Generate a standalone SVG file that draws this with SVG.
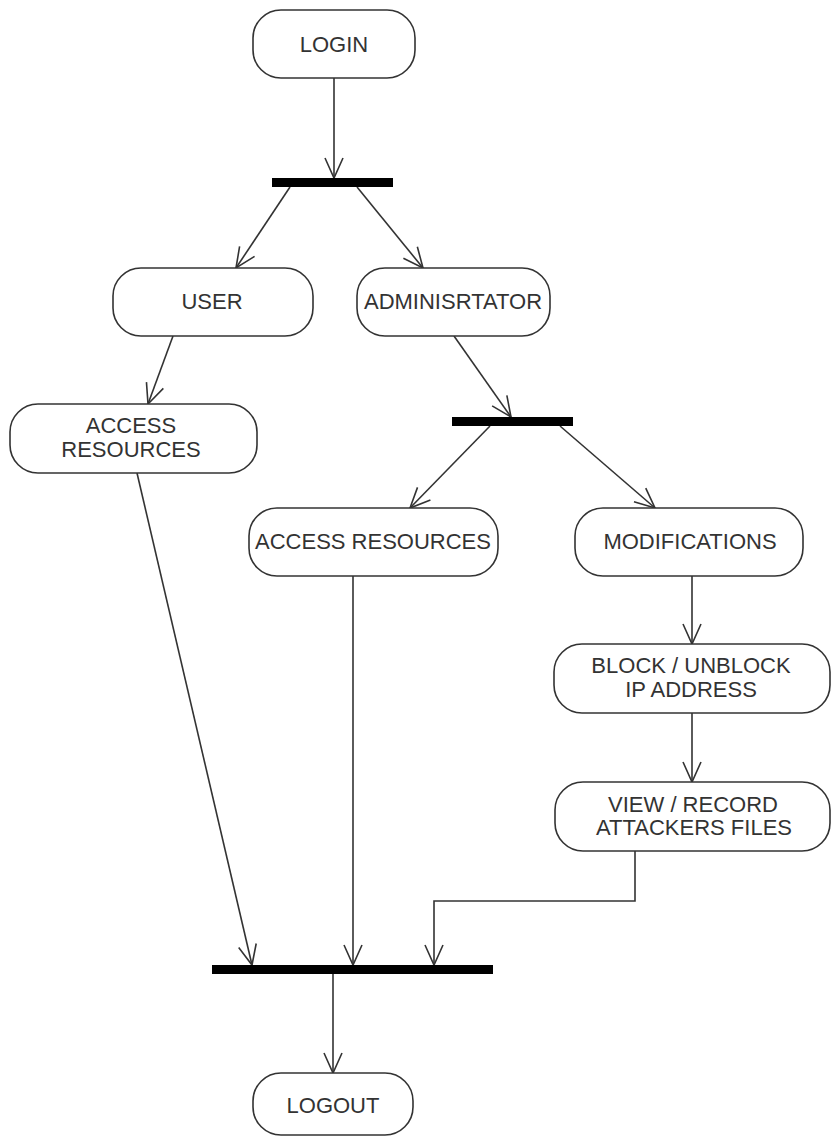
<svg xmlns="http://www.w3.org/2000/svg" width="831" height="1139" viewBox="0 0 831 1139">
<style>
.box{fill:#fff;stroke:#333;stroke-width:1.6}
.bar{fill:#000}
.t{font-family:"Liberation Sans",Arial,sans-serif;font-size:22px;fill:#333;text-anchor:middle}
.c{fill:none;stroke:#333;stroke-width:1.6}
</style>
<defs>
<marker id="arr" markerUnits="userSpaceOnUse" markerWidth="24" markerHeight="22" refX="21" refY="10" orient="auto" viewBox="0 0 24 22" overflow="visible">
<path d="M1,1 L21,10 L1,19" fill="none" stroke="#333" stroke-width="1.6"/>
</marker>
</defs>
<rect width="831" height="1139" fill="#fff"/>
<g id="connectors">
<line class="c" x1="334" y1="78" x2="334" y2="178" marker-end="url(#arr)"/>
<line class="c" x1="290" y1="187" x2="236" y2="268" marker-end="url(#arr)"/>
<line class="c" x1="357" y1="187" x2="423" y2="268" marker-end="url(#arr)"/>
<line class="c" x1="173" y1="336" x2="148" y2="404" marker-end="url(#arr)"/>
<line class="c" x1="454" y1="336" x2="511" y2="417" marker-end="url(#arr)"/>
<line class="c" x1="490" y1="426" x2="410" y2="508" marker-end="url(#arr)"/>
<line class="c" x1="560" y1="426" x2="655" y2="508" marker-end="url(#arr)"/>
<line class="c" x1="692" y1="576" x2="692" y2="644" marker-end="url(#arr)"/>
<line class="c" x1="692" y1="713" x2="692" y2="782" marker-end="url(#arr)"/>
<line class="c" x1="137" y1="473" x2="252" y2="965" marker-end="url(#arr)"/>
<line class="c" x1="353" y1="576" x2="353" y2="965" marker-end="url(#arr)"/>
<polyline class="c" points="635,851 635,901 434,901 434,965" marker-end="url(#arr)"/>
<line class="c" x1="333" y1="974" x2="333" y2="1073" marker-end="url(#arr)"/>
</g>
<g id="login"><rect class="box" x="253" y="10" width="162" height="68" rx="28"/><text class="t" x="334" y="52">LOGIN</text></g>
<g id="fork1"><rect class="bar" x="272" y="178" width="121" height="9"/></g>
<g id="user"><rect class="box" x="113" y="268" width="200" height="68" rx="28"/><text class="t" x="212" y="309">USER</text></g>
<g id="admin"><rect class="box" x="357" y="268" width="193" height="68" rx="28"/><text class="t" x="453" y="309">ADMINISRTATOR</text></g>
<g id="access-user"><rect class="box" x="10" y="404" width="247" height="69" rx="28"/><text class="t" x="131" y="433">ACCESS</text><text class="t" x="131" y="457">RESOURCES</text></g>
<g id="fork2"><rect class="bar" x="452" y="417" width="121" height="9"/></g>
<g id="access-admin"><rect class="box" x="249" y="508" width="249" height="68" rx="28"/><text class="t" x="373" y="549">ACCESS RESOURCES</text></g>
<g id="modifications"><rect class="box" x="575" y="508" width="228" height="68" rx="28"/><text class="t" x="690" y="549">MODIFICATIONS</text></g>
<g id="block"><rect class="box" x="554" y="644" width="276" height="69" rx="28"/><text class="t" x="691" y="673">BLOCK / UNBLOCK</text><text class="t" x="691" y="697">IP ADDRESS</text></g>
<g id="view"><rect class="box" x="555" y="782" width="275" height="69" rx="28"/><text class="t" x="693" y="812">VIEW / RECORD</text><text class="t" x="694" y="835">ATTACKERS FILES</text></g>
<g id="join"><rect class="bar" x="212" y="965" width="281" height="9"/></g>
<g id="logout"><rect class="box" x="253" y="1073" width="160" height="62" rx="28"/><text class="t" x="333" y="1113">LOGOUT</text></g>
</svg>
